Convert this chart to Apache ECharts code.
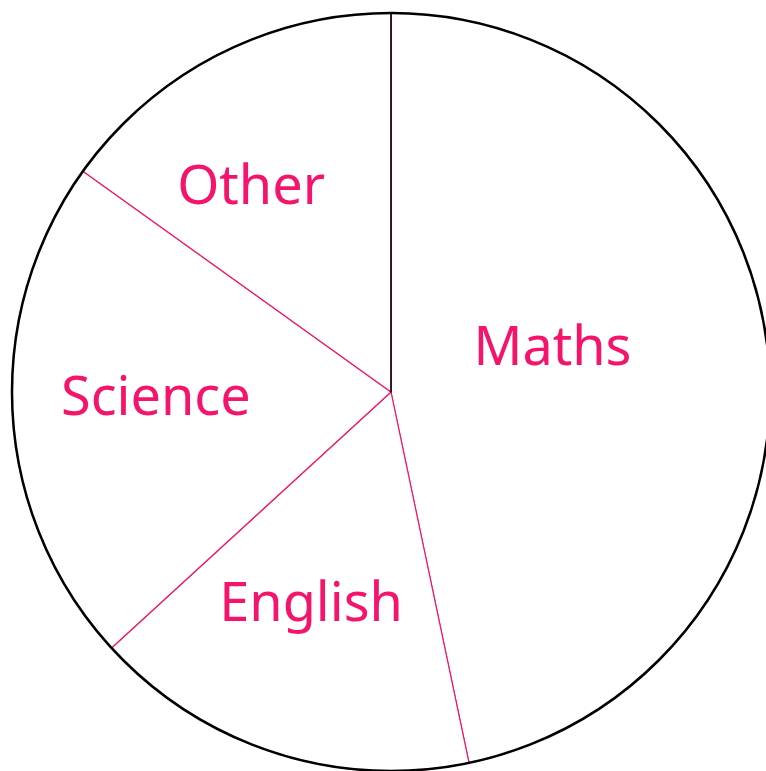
<!DOCTYPE html>
<html>
<head>
<meta charset="utf-8">
<script src="https://cdn.jsdelivr.net/npm/echarts@6/dist/echarts.min.js"></script>
<style>
html,body{margin:0;padding:0;background:#fff;}
#chart{width:766px;height:771px;}
</style>
</head>
<body>
<div id="chart"></div>
<script>
// Data
const categories = ['Maths', 'English', 'Science', 'Other'];
const values = [46.7, 16.5, 21.7, 15.1];

// Styling (label nudges, in px)
const PINK = '#f5146b';
const labelNudge = {
  Maths: [-30, -22],
  English: [-21, 30],
  Science: [-43, -4],
  Other: [-52, -32]
};

const center = [391, 392];
const radius = 379;

const chart = echarts.init(document.getElementById('chart'), null, {renderer: 'canvas'});
chart.setOption({
  animation: false,
  backgroundColor: '#ffffff',
  polar: { center: center, radius: radius },
  angleAxis: {
    type: 'value', min: 0, max: 100, startAngle: 90, clockwise: true,
    z: 5,
    axisLine: { show: true, lineStyle: { color: '#000', width: 2.5 } },
    axisTick: { show: false }, axisLabel: { show: false }, splitLine: { show: false }
  },
  radiusAxis: {
    type: 'value', min: 0, max: 1,
    z: 5,
    axisLine: { show: true, lineStyle: { color: '#000', width: 1.5 } },
    axisTick: { show: false }, axisLabel: { show: false }, splitLine: { show: false }
  },
  series: [{
    type: 'pie',
    center: center,
    radius: [0, radius],
    startAngle: 90,
    clockwise: true,
    silent: true,
    emphasis: { disabled: true },
    itemStyle: { color: '#ffffff', borderColor: PINK, borderWidth: 1.2 },
    label: {
      show: true,
      position: 'inside',
      color: PINK,
      fontFamily: 'Noto Sans',
      fontSize: 54,
      formatter: '{b}'
    },
    labelLine: { show: false },
    labelLayout: function (p) {
      const n = labelNudge[p.text] || [0, 0];
      return { dx: n[0], dy: n[1] };
    },
    data: categories.map((c, i) => ({ name: c, value: values[i] }))
  }]
});
</script>
</body>
</html>
